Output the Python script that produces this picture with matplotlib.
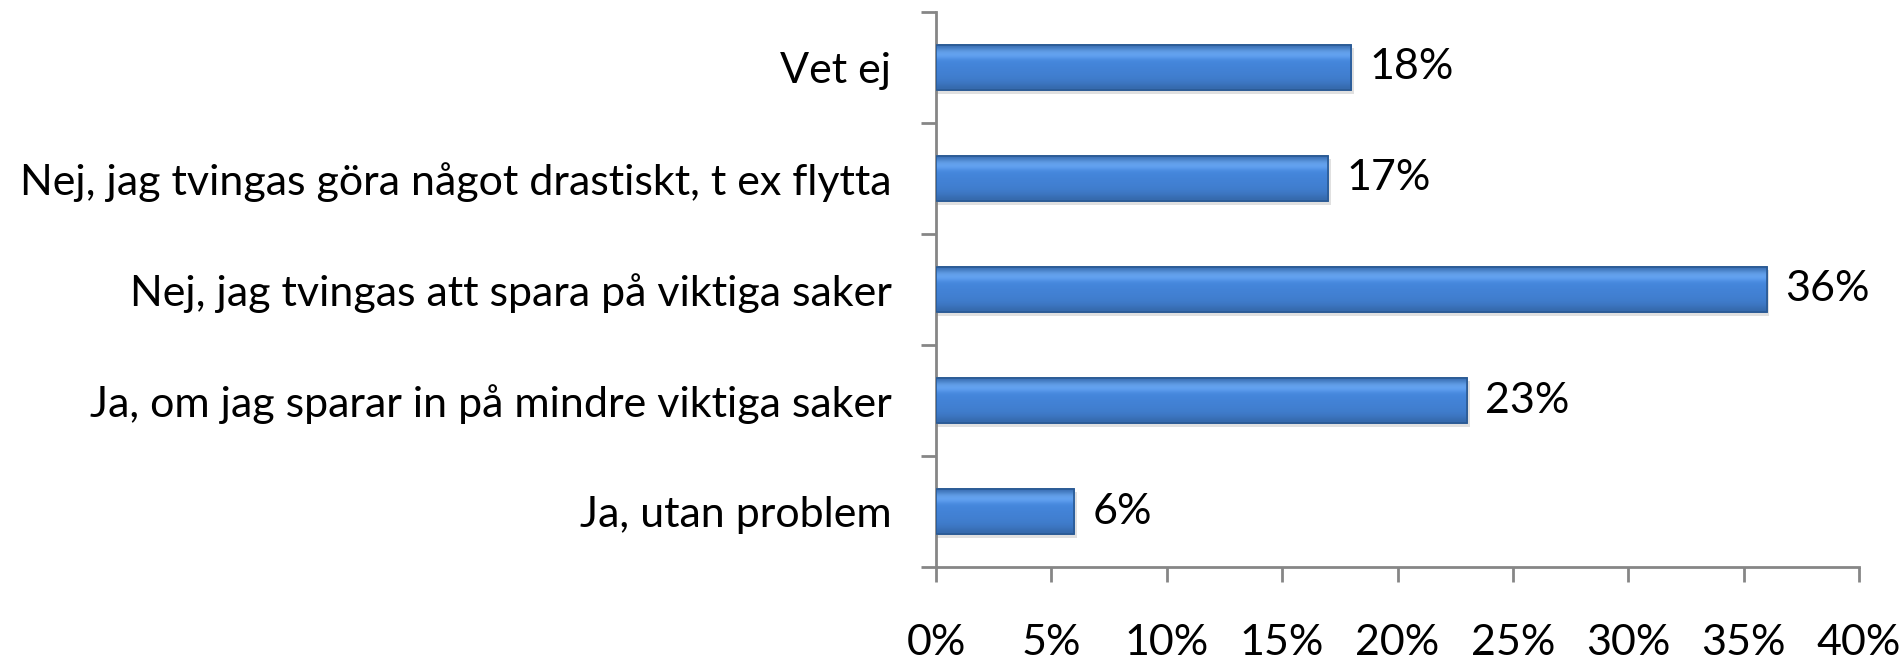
import matplotlib.pyplot as plt
import numpy as np
from matplotlib.ticker import FixedLocator, NullFormatter

categories = ["Ja, utan problem",
              "Ja, om jag sparar in på mindre viktiga saker",
              "Nej, jag tvingas att spara på viktiga saker",
              "Nej, jag tvingas göra något drastiskt, t ex flytta",
              "Vet ej"]
values = [6, 23, 36, 17, 18]
xticks = [0, 5, 10, 15, 20, 25, 30, 35, 40]

plt.rcParams['font.family'] = ['Lato', 'DejaVu Sans']
FS = 31

fig = plt.figure(figsize=(19.01, 6.59), dpi=100)
ax = fig.add_axes([0.4924, 0.1396, 0.9779 - 0.4924, 0.9818 - 0.1396])

y = np.arange(len(categories))
h = 0.41

# vertical gradient for the bevelled look
grad = np.array([0.55, 0.75, 0.9, 0.95, 0.92, 0.88, 0.85, 0.8, 0.7, 0.5]).reshape(-1, 1)
base = np.array([0.24, 0.47, 0.77])
cmap_img = np.clip(base[None, None, :] * (0.6 + 0.55 * grad[:, :, None]), 0, 1)
cmap_img[1:3] = np.clip(cmap_img[1:3] + np.array([0.14, 0.14, 0.12]), 0, 1)

for yi, v in zip(y, values):
    # shadow
    ax.barh(yi - 0.03, v + 0.12, height=h, left=0, color="#000000", alpha=0.12, zorder=1)
    bar = ax.barh(yi, v, height=h, color="#3C78C3", edgecolor="#2A5A94", linewidth=1.2, zorder=2)[0]
    im = ax.imshow(cmap_img, extent=[0, v, yi - h / 2, yi + h / 2], aspect="auto", zorder=3,
                   interpolation="bicubic", origin="upper")
    im.set_clip_path(bar)
    ax.barh(yi, v, height=h, color="none", edgecolor="#2A5A94", linewidth=1.2, zorder=4)
    ax.text(v + 0.8, yi, f"{v}%", va="center", ha="left", fontsize=FS, color="black")

ax.set_xlim(0, 40)
ax.set_ylim(-0.5, len(categories) - 0.5)

ax.xaxis.set_major_locator(FixedLocator(xticks))
ax.set_xticklabels([f"{t}%" for t in xticks], fontsize=FS)
ax.tick_params(axis="x", length=11, width=2, color="#868686", pad=30)

ax.yaxis.set_major_locator(FixedLocator(np.arange(-0.5, len(categories), 1.0)))
ax.yaxis.set_major_formatter(NullFormatter())
ax.yaxis.set_minor_locator(FixedLocator(y))
ax.set_yticklabels(categories, minor=True, fontsize=FS)
ax.tick_params(axis="y", which="major", length=11, width=2, color="#868686")
ax.tick_params(axis="y", which="minor", length=0, pad=32)

for s in ["top", "right"]:
    ax.spines[s].set_visible(False)
for s in ["left", "bottom"]:
    ax.spines[s].set_color("#868686")
    ax.spines[s].set_linewidth(2)

fig.savefig("out.png", dpi=100)
